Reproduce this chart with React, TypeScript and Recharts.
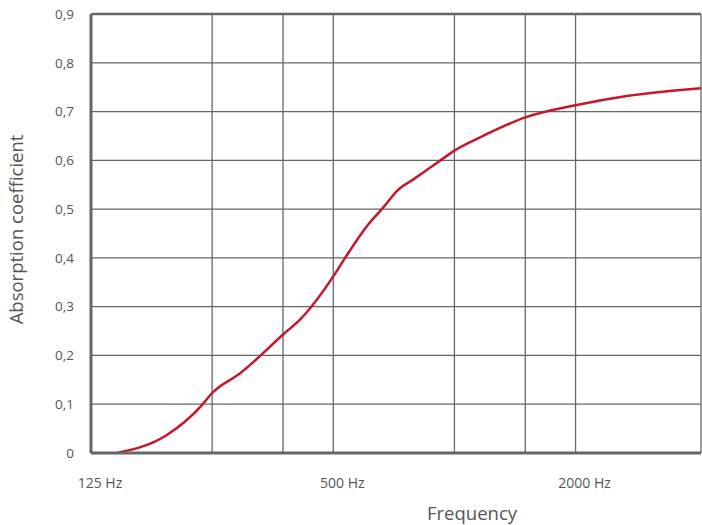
import React from "react";
import {
  LineChart,
  Line,
  XAxis,
  YAxis,
  CartesianGrid,
  ReferenceLine,
} from "recharts";

// frequency (Hz) on a log axis, absorption coefficient
const frequencies = [145, 193, 234, 250, 294, 380, 414, 500, 535, 606, 660, 679, 719, 791, 913, 1000, 1158, 1500, 2000, 2680, 4100];
const absorption = [0, 0.037, 0.095, 0.123, 0.164, 0.247, 0.274, 0.362, 0.4, 0.465, 0.5, 0.512, 0.537, 0.561, 0.597, 0.62, 0.647, 0.688, 0.713, 0.732, 0.748];

const xTicks = [125, 250, 375, 500, 1000, 1500, 2000];
const xLabels: Record<number, string> = { 125: "125 Hz", 500: "500 Hz", 2000: "2000 Hz" };
const yTicks = [0, 0.1, 0.2, 0.3, 0.4, 0.5, 0.6, 0.7, 0.8, 0.9];

const data = frequencies.map((f, i) => ({ f, a: absorption[i] }));

const FONT = "'Open Sans', 'Noto Sans', sans-serif";
const GRID = "#666666";
const TEXT = "#555555";

function FreqTick(props: any) {
  const { x, y, payload } = props;
  const label = xLabels[payload.value];
  if (!label) return null;
  return (
    <text x={x + 9} y={y} dy="0.71em" textAnchor="middle" fill={TEXT} fontSize={14} fontFamily={FONT}>
      {label}
    </text>
  );
}

export default function App() {
  return (
    <div style={{ position: "absolute", left: 0, top: 0, background: "#fff" }}>
      <LineChart
        width={702}
        height={525}
        data={data}
        margin={{ top: 14, right: 1, bottom: 0, left: 0 }}
        style={{ fontFamily: FONT }}
      >
        <CartesianGrid stroke={GRID} strokeWidth={1.3} />
        <XAxis
          dataKey="f"
          type="number"
          scale="log"
          domain={[125, 4100]}
          allowDataOverflow
          ticks={xTicks}
          tick={<FreqTick />}
          tickLine={false}
          tickSize={0}
          tickMargin={25}
          height={72}
          axisLine={{ stroke: GRID, strokeWidth: 3 }}
          label={{
            content: ({ viewBox }: any) => (
              <text
                x={viewBox.x + viewBox.width / 2 + 76}
                y={viewBox.y + 67}
                textAnchor="middle"
                fill={TEXT}
                fontSize={18.5}
                fontFamily={FONT}
              >
                Frequency
              </text>
            ),
          }}
        />
        <YAxis
          type="number"
          domain={[0, 0.9]}
          ticks={yTicks}
          width={91}
          tickLine={false}
          tickSize={0}
          tickMargin={17}
          tick={{ fill: TEXT, fontSize: 13.5, fontFamily: FONT }}
          tickFormatter={(v: number) => (v === 0 ? "0" : v.toFixed(1).replace(".", ","))}
          axisLine={{ stroke: GRID, strokeWidth: 3 }}
          label={{
            content: ({ viewBox }: any) => {
              const cx = 15;
              const cy = viewBox.y + viewBox.height / 2 - 4;
              return (
                <text
                  x={cx}
                  y={cy}
                  transform={`rotate(-90, ${cx}, ${cy})`}
                  textAnchor="middle"
                  dominantBaseline="central"
                  fill={TEXT}
                  fontSize={18.5}
                  fontFamily={FONT}
                >
                  Absorption coefficient
                </text>
              );
            },
          }}
        />
        <ReferenceLine y={0.9} stroke={GRID} strokeWidth={2.5} />
        <Line
          type="monotone"
          dataKey="a"
          stroke="#c4172c"
          strokeWidth={2.5}
          dot={false}
          isAnimationActive={false}
        />
      </LineChart>
    </div>
  );
}
